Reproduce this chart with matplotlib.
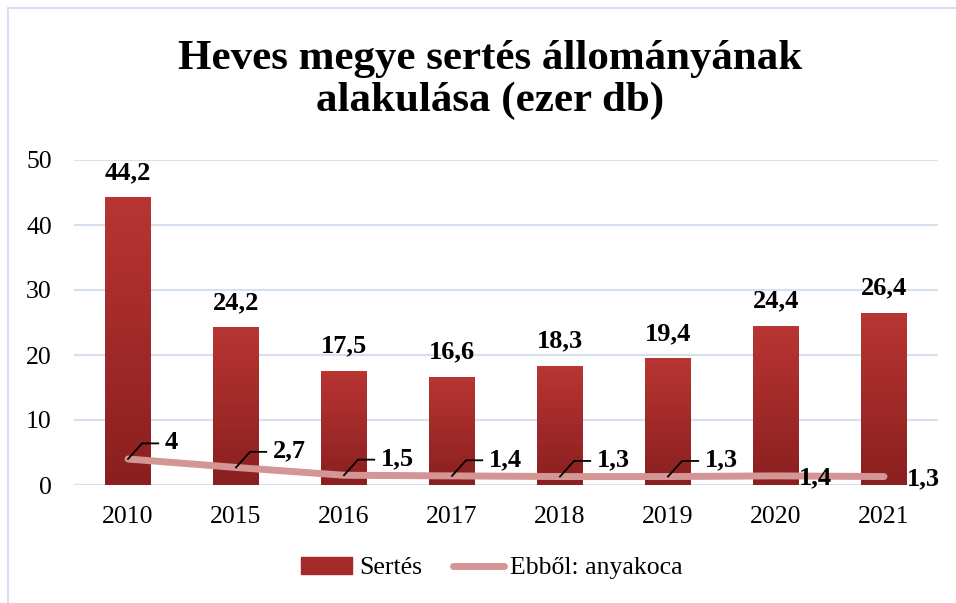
import numpy as np
import matplotlib.pyplot as plt
from matplotlib.patches import Rectangle, Patch
from matplotlib.lines import Line2D
from matplotlib.colors import LinearSegmentedColormap

evek = ['2010', '2015', '2016', '2017', '2018', '2019', '2020', '2021']
sertes = [44.2, 24.2, 17.5, 16.6, 18.3, 19.4, 24.4, 26.4]
anyakoca = [4, 2.7, 1.5, 1.4, 1.3, 1.3, 1.4, 1.3]
anyakoca_cimke = ['4', '2,7', '1,5', '1,4', '1,3', '1,3', '1,4', '1,3']

plt.rcParams['font.family'] = ['Liberation Serif', 'DejaVu Serif']

fig = plt.figure(figsize=(9.56, 6.03), dpi=100)
ax = fig.add_axes([74 / 956, 1 - 485 / 603, 864 / 956, 325 / 603])

# keret
fig.patches.append(Rectangle((8 / 956, -0.1), 1.2, 1 - 8 / 603 + 0.1, transform=fig.transFigure,
                             fill=False, edgecolor='#d6e1f0', lw=1.5))

x = np.arange(len(evek))
w = 0.42
cmap = LinearSegmentedColormap.from_list('piros', ['#8a1f1f', '#b83533'])
grad = np.linspace(0, 1, 256).reshape(-1, 1)
bars = ax.bar(x, sertes, w, color='none', zorder=2)
for b in bars:
    x0, y0 = b.get_x(), b.get_y()
    ax.imshow(grad, cmap=cmap, origin='lower', aspect='auto', zorder=2,
              extent=(x0, x0 + b.get_width(), y0, y0 + b.get_height()))

for xi, v in zip(x, sertes):
    ax.text(xi, v + 2.1, f'{v:.1f}'.replace('.', ','), ha='center', va='bottom',
            fontsize=19, fontweight='bold')

ax.plot(x, anyakoca, color='#d49595', lw=5, solid_capstyle='round', zorder=3)

for i, (xi, v, t) in enumerate(zip(x, anyakoca, anyakoca_cimke)):
    if i < 6:
        ax.plot([xi, xi + 0.13, xi + 0.28], [v, v + 2.4, v + 2.4], color='black', lw=1.3, zorder=4)
        ax.text(xi + 0.34, v + 2.5, t, ha='left', va='center', fontsize=19, fontweight='bold', zorder=4)
    else:
        ax.text(xi + 0.21, v - 0.3, t, ha='left', va='center', fontsize=19, fontweight='bold', zorder=4)

ax.set_xlim(-0.5, len(evek) - 0.5)
ax.set_ylim(0, 50)
ax.set_yticks(range(0, 51, 10))
ax.set_xticks(x)
ax.set_xticklabels(evek)
ax.tick_params(axis='both', length=0, labelsize=18.5)
ax.tick_params(axis='y', pad=16)
ax.tick_params(axis='x', pad=15)
ax.grid(axis='y', color='#d6e1f0', lw=1.5, zorder=0)
ax.set_axisbelow(True)
for s in ax.spines.values():
    s.set_visible(False)

fig.text(490 / 956, 1 - 80 / 603, 'Heves megye sertés állományának\nalakulása (ezer db)', ha='center', va='center',
         fontsize=31, fontweight='bold', linespacing=1.1)

h = [Patch(color='#a52a2a'), Line2D([], [], color='#d49595', lw=5, solid_capstyle='round')]
fig.legend(h, ['Sertés', 'Ebből: anyakoca'], loc='center', bbox_to_anchor=(492 / 956, 1 - 568 / 603), ncol=2,
           frameon=False, fontsize=18.5, handlelength=2.0, columnspacing=1.2, handletextpad=0.25)
fig.savefig('out.png', dpi=100)
